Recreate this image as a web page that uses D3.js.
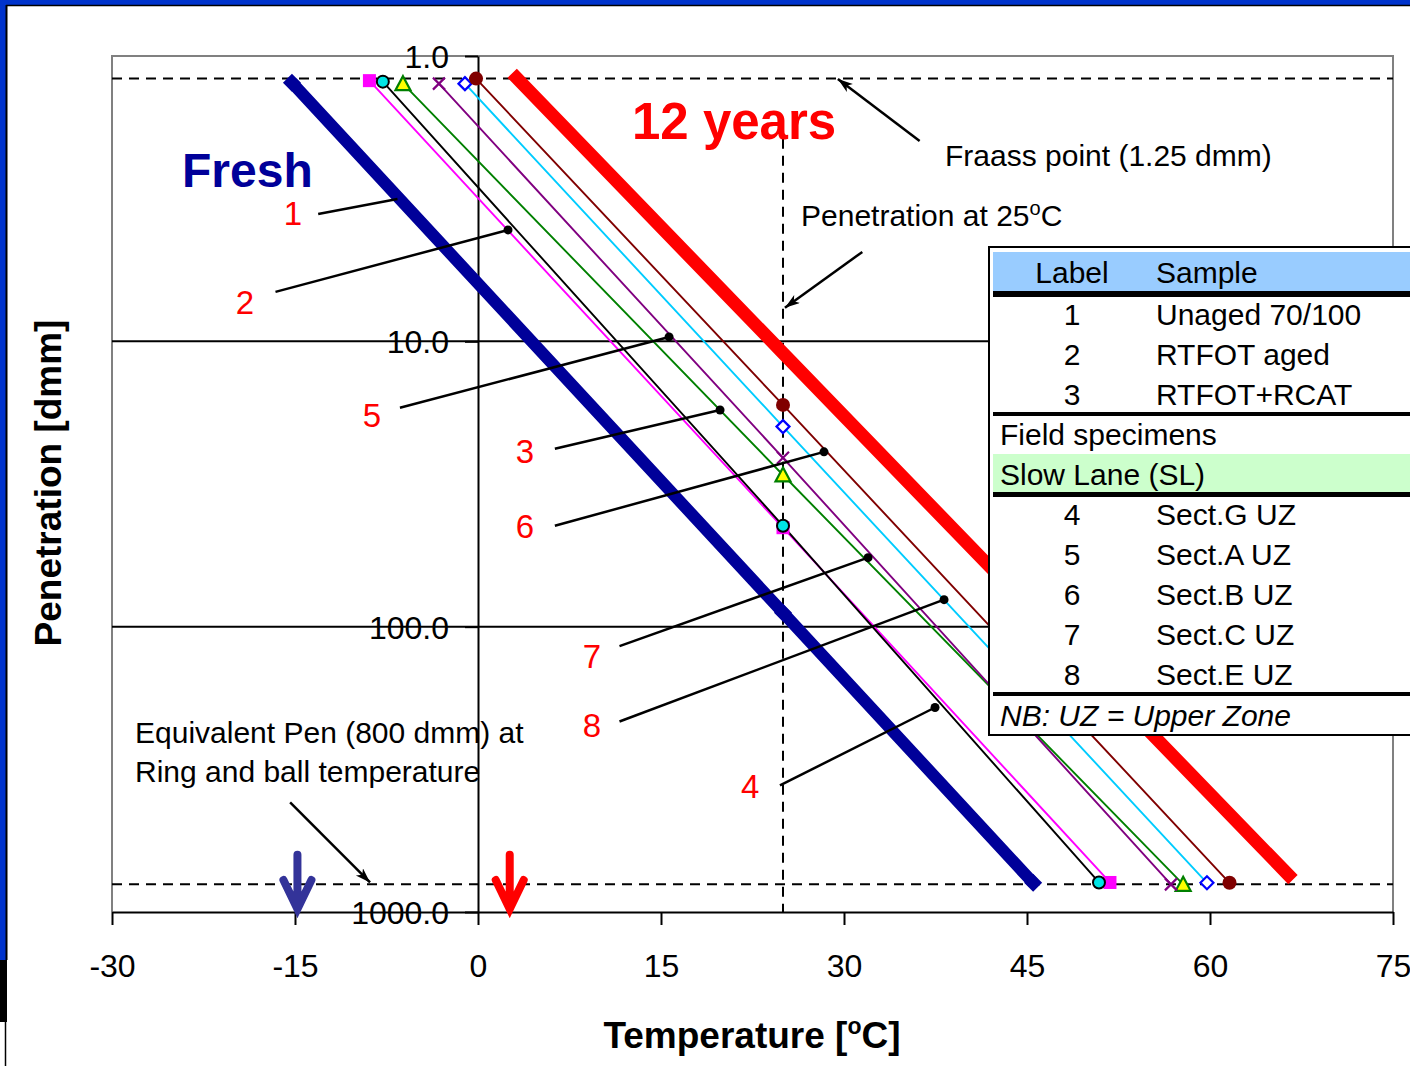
<!DOCTYPE html>
<html lang="en">
<head>
<meta charset="utf-8" />
<title>Penetration vs temperature</title>
<script src="https://d3js.org/d3.v7.min.js"></script>
<style type="text/css">
  body { margin:0; background:#fff; }
  text { font-family: "Liberation Sans", Arial, sans-serif; }
</style>
</head>
<body>
<svg id="chart" width="1410" height="1066"></svg>
<script type="text/javascript">

    // temperature (degC) / penetration (dmm) points of each line: top end, value at 25C, bottom end
    var freshT = [-15.25, 25, 45.5],   freshPen = [1.24, 89.3, 790];
    var agedT = [2.8, 25, 66.8],       agedPen = [1.15, 11.0, 770];
    var s1T = [-8.9, 25, 51.8],        s1Pen = [1.22, 45.0, 788];
    var s2T = [-7.8, 25, 50.9],        s2Pen = [1.23, 44.3, 788];
    var s3T = [-6.15, 25, 57.8],       s3Pen = [1.25, 29.4, 800];
    var s4T = [-3.2, 25, 56.8],        s4Pen = [1.25, 25.6, 800];
    var s5T = [-1.07, 25, 59.75],      s5Pen = [1.25, 19.9, 790];
    var s6T = [-0.16, 25, 61.6],       s6Pen = [1.2, 16.7, 790];

    var xTicks = [-30, -15, 0, 15, 30, 45, 60, 75];
    var yTicks = [1, 10, 100, 1000];
    var gridPen = [10, 100];
    var fraassPen = 1.2, equivPen = 800, refT = 25;

    // numbered leader lines
    var leaderLabels = ['1', '2', '5', '3', '6', '7', '8', '4'];
    var leaderFromT = [-13.1, -16.6, -6.4, 6.3, 6.3, 11.6, 11.6, 24.75];
    var leaderFromPen = [3.58, 6.71, 17.1, 23.8, 44.3, 117, 215, 360];
    var leaderToT = [-6.6, 2.46, 15.66, 19.84, 28.36, 31.97, 38.2, 37.46];
    var leaderToPen = [3.17, 4.07, 9.65, 17.4, 24.4, 57.3, 80.4, 192];
    var labelT = [-15.16, -19.1, -8.69, 3.85, 3.85, 9.34, 9.34, 22.3];
    var labelPen = [3.55, 7.27, 18.2, 24.2, 44.6, 127, 222, 363];

    // ring and ball arrows
    var rbT = [-14.8, 2.6];

    var tableLabels = ['1', '2', '3'];
    var tableSamples = ['Unaged 70/100', 'RTFOT aged', 'RTFOT+RCAT'];
    var fieldLabels = ['4', '5', '6', '7', '8'];
    var fieldSamples = ['Sect.G UZ', 'Sect.A UZ', 'Sect.B UZ', 'Sect.C UZ', 'Sect.E UZ'];

    var w = 1410, h = 1066;
    var svg = d3.select('#chart');

    var x = d3.scaleLinear().domain([-30, 75]).range([112, 1393]);
    var y = d3.scaleLog().domain([1, 1000]).range([56, 912]);

    // frame
    svg.append('rect').attr('x', 0).attr('y', 0).attr('width', w).attr('height', 5).attr('fill', '#0033cc');
    svg.append('rect').attr('x', 0).attr('y', 0).attr('width', 6).attr('height', 960).attr('fill', '#0033cc');
    svg.append('rect').attr('x', 0).attr('y', 960).attr('width', 7).attr('height', 62).attr('fill', '#000');
    svg.append('line').attr('x1', 6.5).attr('x2', 6.5).attr('y1', 5).attr('y2', 960).attr('stroke', '#000').attr('stroke-width', 2);
    svg.append('line').attr('x1', 6).attr('x2', w).attr('y1', 5.5).attr('y2', 5.5).attr('stroke', '#000').attr('stroke-width', 1.5);
    svg.append('line').attr('x1', 5.5).attr('x2', 5.5).attr('y1', 1022).attr('y2', h).attr('stroke', '#000').attr('stroke-width', 1.5);

    // plot border
    svg.append('path')
       .attr('d', 'M' + x(-30) + ',' + y(1000) + 'V' + y(1) + 'H' + x(75) + 'V' + y(1000))
       .attr('fill', 'none').attr('stroke', '#808080').attr('stroke-width', 2);

    // grid lines
    svg.selectAll('.grid').data(gridPen).enter().append('line')
       .attr('x1', x(-30)).attr('x2', x(75))
       .attr('y1', function(d) { return y(d); }).attr('y2', function(d) { return y(d); })
       .attr('stroke', '#000').attr('stroke-width', 2);

    // dashed reference lines
    svg.selectAll('.ref').data([fraassPen, equivPen]).enter().append('line')
       .attr('x1', x(-30)).attr('x2', x(75))
       .attr('y1', function(d) { return y(d); }).attr('y2', function(d) { return y(d); })
       .attr('stroke', '#000').attr('stroke-width', 2).attr('stroke-dasharray', '10,7');
    svg.append('line')
       .attr('x1', x(refT)).attr('x2', x(refT)).attr('y1', y(1.95)).attr('y2', y(1000))
       .attr('stroke', '#000').attr('stroke-width', 2).attr('stroke-dasharray', '10,7');

    // axes
    var xAxis = svg.append('g').attr('transform', 'translate(0,' + y(1000) + ')')
       .call(d3.axisBottom(x).tickValues(xTicks).tickSize(13).tickSizeOuter(0).tickPadding(29)
             .tickFormat(function(d) { return String(d); }));
    var yAxis = svg.append('g').attr('transform', 'translate(' + x(0) + ',0)')
       .call(d3.axisLeft(y).tickValues(yTicks).tickSize(13).tickSizeOuter(0).tickPadding(16)
             .tickFormat(d3.format('.1f')));
    [xAxis, yAxis].forEach(function(a) {
        a.select('.domain').attr('stroke', '#000').attr('stroke-width', 2);
        a.selectAll('.tick line').attr('stroke', '#000').attr('stroke-width', 2);
        a.selectAll('.tick text').attr('fill', '#000').style('font-size', '32px')
         .style('font-family', '"Liberation Sans", Arial, sans-serif');
    });
    yAxis.selectAll('.tick text').attr('dy', '0.36em');

    var line = d3.line().x(function(d) { return x(d[0]); }).y(function(d) { return y(d[1]); });
    function pts(t, p) { return t.map(function(v, i) { return [v, p[i]]; }); }

    // thin sample lines
    var thin = [
        { t: s1T, p: s1Pen, c: '#ff00ff', m: 'square' },
        { t: s2T, p: s2Pen, c: '#000000', m: 'circle' },
        { t: s3T, p: s3Pen, c: '#008000', m: 'triangle' },
        { t: s4T, p: s4Pen, c: '#800080', m: 'cross' },
        { t: s5T, p: s5Pen, c: '#00ccff', m: 'diamond' },
        { t: s6T, p: s6Pen, c: '#800000', m: 'dot' }
    ];
    thin.forEach(function(s) {
        svg.append('path').datum(pts(s.t, s.p)).attr('d', line)
           .attr('fill', 'none').attr('stroke', s.c).attr('stroke-width', 1.9);
    });

    // thick lines
    svg.append('path').datum(pts(freshT, freshPen)).attr('d', line)
       .attr('fill', 'none').attr('stroke', '#000099').attr('stroke-width', 12);
    svg.selectAll('.fm').data(pts(freshT, freshPen)).enter().append('path')
       .attr('transform', function(d) { return 'translate(' + x(d[0]) + ',' + y(d[1]) + ')'; })
       .attr('d', 'M0,-9L9,0L0,9L-9,0Z').attr('fill', '#000099');
    svg.append('path').datum(pts(agedT, agedPen)).attr('d', line)
       .attr('fill', 'none').attr('stroke', '#ff0000').attr('stroke-width', 13);

    // markers of thin lines
    thin.forEach(function(s) {
        var g = svg.append('g');
        var sel = g.selectAll('g').data(pts(s.t, s.p)).enter().append('g')
           .attr('transform', function(d) { return 'translate(' + x(d[0]) + ',' + y(d[1]) + ')'; });
        if (s.m === 'square') sel.append('rect').attr('x', -6.5).attr('y', -6.5).attr('width', 13).attr('height', 13).attr('fill', '#ff00ff');
        if (s.m === 'circle') sel.append('circle').attr('r', 6).attr('fill', '#00e5e5').attr('stroke', '#000').attr('stroke-width', 2);
        if (s.m === 'triangle') sel.append('path').attr('d', 'M0,-7.5L7.5,6.5L-7.5,6.5Z').attr('fill', '#ffff00').attr('stroke', '#008000').attr('stroke-width', 2.2);
        if (s.m === 'cross') sel.append('path').attr('d', 'M-6,-6L6,6M-6,6L6,-6').attr('stroke', '#800080').attr('stroke-width', 2.2);
        if (s.m === 'diamond') sel.append('path').attr('d', 'M0,-6.5L6.5,0L0,6.5L-6.5,0Z').attr('fill', '#fff').attr('stroke', '#0000ff').attr('stroke-width', 2.2);
        if (s.m === 'dot') sel.append('circle').attr('r', 7).attr('fill', '#800000');
    });

    // arrow head marker
    svg.append('defs').append('marker').attr('id', 'head')
       .attr('markerUnits', 'userSpaceOnUse').attr('markerWidth', 16).attr('markerHeight', 12)
       .attr('refX', 15).attr('refY', 5).attr('orient', 'auto')
       .append('path').attr('d', 'M0,0L15,5L0,10L4,5Z').attr('fill', '#000');

    // leader lines with numbers
    leaderLabels.forEach(function(l, i) {
        svg.append('line')
           .attr('x1', x(leaderFromT[i])).attr('y1', y(leaderFromPen[i]))
           .attr('x2', x(leaderToT[i])).attr('y2', y(leaderToPen[i]))
           .attr('stroke', '#000').attr('stroke-width', 2.5);
        if (i > 0) {
            svg.append('circle').attr('cx', x(leaderToT[i])).attr('cy', y(leaderToPen[i]))
               .attr('r', 4.5).attr('fill', '#000');
        }
        svg.append('text').attr('x', x(labelT[i])).attr('y', y(labelPen[i])).attr('dy', '0.36em')
           .attr('text-anchor', 'middle').style('font-size', '33px').attr('fill', '#ff0000').text(l);
    });

    // annotation arrows
    function arrow(t1, p1, t2, p2) {
        svg.append('line').attr('x1', x(t1)).attr('y1', y(p1)).attr('x2', x(t2)).attr('y2', y(p2))
           .attr('stroke', '#000').attr('stroke-width', 2.5).attr('marker-end', 'url(#head)');
    }
    arrow(36.2, 1.985, 29.5, 1.204);
    arrow(31.5, 4.86, 25.16, 7.63);
    arrow(-15.4, 413, -8.85, 788);

    // ring and ball arrows
    svg.selectAll('.rb').data(rbT).enter().append('path')
       .attr('d', function(d) {
           var cx = x(d), top = y(630), tip = y(1000) - 3;
           return 'M' + cx + ',' + top + 'V' + (tip - 4) + 'M' + (cx - 14) + ',' + (tip - 29) + 'L' + cx + ',' + tip + 'L' + (cx + 14) + ',' + (tip - 29);
       })
       .attr('fill', 'none').attr('stroke-width', 8).attr('stroke-linecap', 'round').attr('stroke-linejoin', 'miter')
       .attr('stroke', function(d, i) { return i === 0 ? '#333399' : '#ff0000'; });

    // titles on the plot
    svg.append('rect').attr('x', 628).attr('y', 92).attr('width', 214).attr('height', 46).attr('fill', '#fff');
    svg.append('text').attr('x', 632).attr('y', 139).style('font-size', '51px').style('font-weight', 'bold')
       .attr('fill', '#ff0000').text('12 years');
    svg.append('text').attr('x', 182).attr('y', 187).style('font-size', '48px').style('font-weight', 'bold')
       .attr('fill', '#000099').text('Fresh');
    svg.append('text').attr('x', 945).attr('y', 166).style('font-size', '30px').text('Fraass point (1.25 dmm)');
    var pt = svg.append('text').attr('x', 801).attr('y', 226).style('font-size', '30px').text('Penetration at 25');
    pt.append('tspan').attr('dy', -11).style('font-size', '20px').text('o');
    pt.append('tspan').attr('dy', 11).text('C');
    svg.append('text').attr('x', 135).attr('y', 743).style('font-size', '30px').text('Equivalent Pen (800 dmm) at');
    svg.append('text').attr('x', 135).attr('y', 782).style('font-size', '30px').text('Ring and ball temperature');

    // axis titles
    var xt = svg.append('text').attr('x', 752).attr('y', 1048).attr('text-anchor', 'middle')
       .style('font-size', '37px').style('font-weight', 'bold').text('Temperature [');
    xt.append('tspan').attr('dy', -14).style('font-size', '23px').text('o');
    xt.append('tspan').attr('dy', 14).text('C]');
    svg.append('text').attr('transform', 'translate(61,483) rotate(-90)').attr('text-anchor', 'middle')
       .style('font-size', '37px').style('font-weight', 'bold').text('Penetration [dmm]');

    // legend table
    var lg = svg.append('g');
    lg.append('rect').attr('x', 989).attr('y', 247).attr('width', 430).attr('height', 488)
      .attr('fill', '#fff').attr('stroke', '#000').attr('stroke-width', 2);
    lg.append('rect').attr('x', 993).attr('y', 252).attr('width', 420).attr('height', 40).attr('fill', '#99ccff');
    lg.append('rect').attr('x', 993).attr('y', 454).attr('width', 420).attr('height', 38).attr('fill', '#ccffcc');
    [[291, 6], [412, 4], [492, 5], [692, 4]].forEach(function(r) {
        lg.append('rect').attr('x', 993).attr('y', r[0]).attr('width', 420).attr('height', r[1]).attr('fill', '#000');
    });
    function row(cy, a, b) {
        lg.append('text').attr('x', 1072).attr('y', cy).attr('dy', '0.36em').attr('text-anchor', 'middle')
          .style('font-size', '30px').text(a);
        lg.append('text').attr('x', 1156).attr('y', cy).attr('dy', '0.36em').style('font-size', '30px').text(b);
    }
    row(272, 'Label', 'Sample');
    tableLabels.forEach(function(l, i) { row(314 + i * 40, l, tableSamples[i]); });
    fieldLabels.forEach(function(l, i) { row(514 + i * 40, l, fieldSamples[i]); });
    lg.append('text').attr('x', 1000).attr('y', 434).attr('dy', '0.36em').style('font-size', '30px').text('Field specimens');
    lg.append('text').attr('x', 1000).attr('y', 474).attr('dy', '0.36em').style('font-size', '30px').text('Slow Lane (SL)');
    lg.append('text').attr('x', 1000).attr('y', 715).attr('dy', '0.36em').style('font-size', '30px')
      .style('font-style', 'italic').text('NB: UZ = Upper Zone');

</script>
</body>
</html>
